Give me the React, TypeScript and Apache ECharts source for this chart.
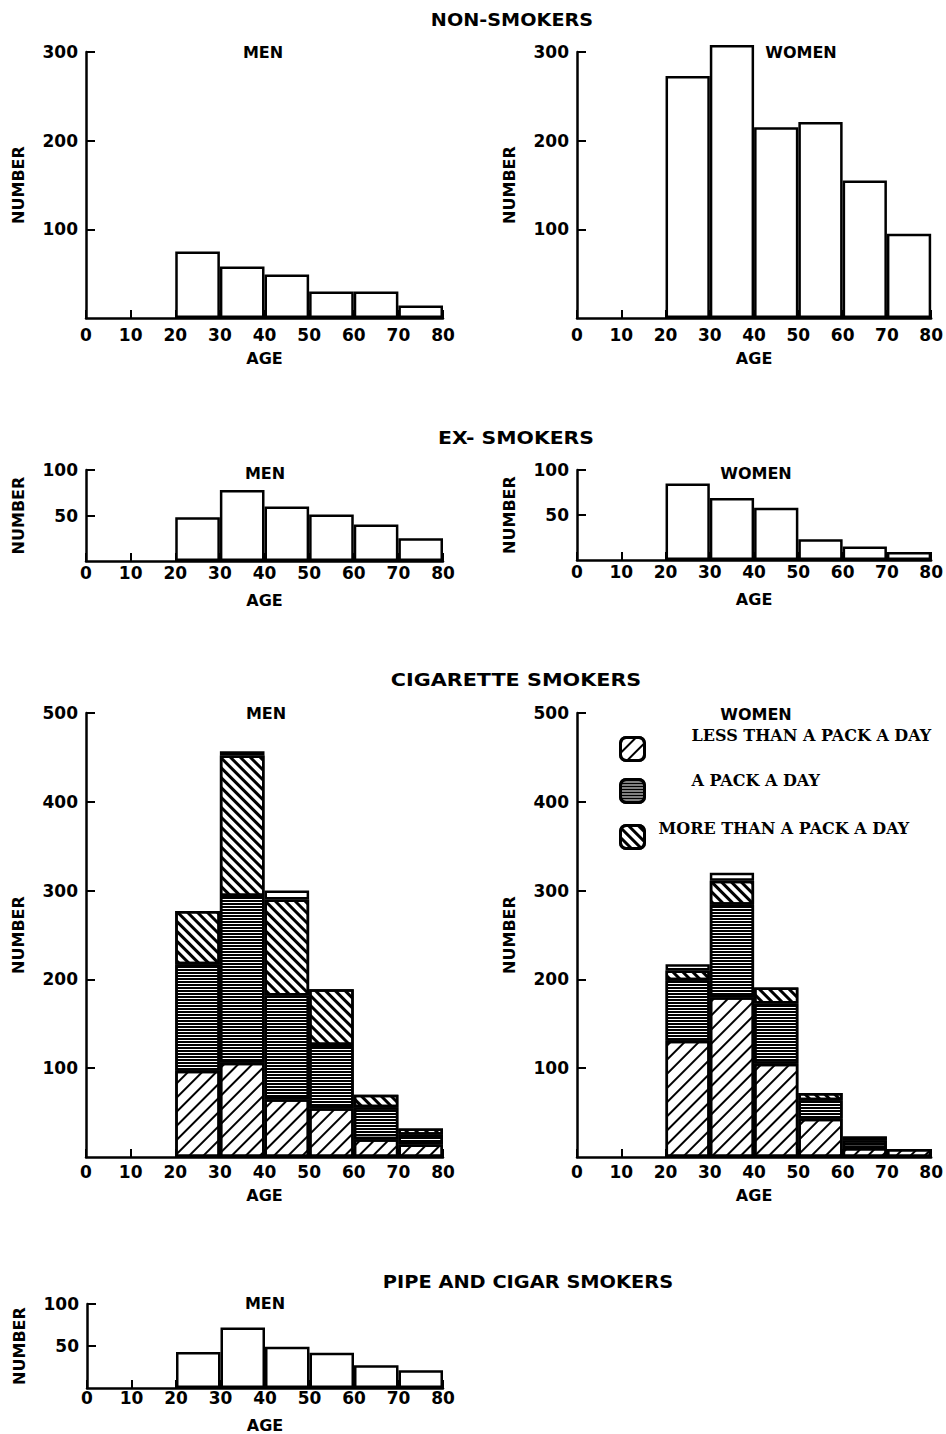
import React, { useEffect, useRef } from "react";
import * as echarts from "echarts";

// ---------- data ----------
const AGE_GROUPS = ["0-10", "10-20", "20-30", "30-40", "40-50", "50-60", "60-70", "70-80"];

const nonSmokersMen = ["-", "-", 75, 58, 49, 30, 30, 14];
const nonSmokersWomen = ["-", "-", 273, 308, 215, 221, 155, 95];

const exSmokersMen = ["-", "-", 48, 78, 60, 51, 40, 25];
const exSmokersWomen = ["-", "-", 85, 69, 58, 23, 15, 9];

const cigMenLess = ["-", "-", 97, 106, 65, 55, 20, 14];
const cigMenPack = ["-", "-", 120, 188, 117, 71, 36, 11];
const cigMenMore = ["-", "-", 60, 158, 108, 63, 14, 7];
const cigMenUnstated = ["-", "-", "-", 5, 10, "-", "-", "-"];

const cigWomenLess = ["-", "-", 131, 180, 105, 43, 10, 9];
const cigWomenPack = ["-", "-", 68, 104, 68, 21, 9, "-"];
const cigWomenMore = ["-", "-", 11, 27, 18, 8, 4, "-"];
const cigWomenUnstated = ["-", "-", 7, 9, "-", "-", "-", "-"];

const pipeCigarMen = ["-", "-", 43, 72, 49, 42, 27, 21];

const LESS = "LESS THAN A PACK A DAY";
const PACK = "A PACK A DAY";
const MORE = "MORE THAN A PACK A DAY";
const UNSTATED = "NOT STATED";

// ---------- styles ----------
const SANS = "DejaVu Sans";
const TYPE = "DejaVu Serif";
const INK = "#000";

const decalLess = {
  symbol: "rect",
  symbolSize: 1,
  dashArrayX: [1, 0],
  dashArrayY: [1.4, 8],
  rotation: -Math.PI / 4,
  color: INK,
  backgroundColor: null,
};
const decalPack = {
  symbol: "rect",
  symbolSize: 1,
  dashArrayX: [1, 0],
  dashArrayY: [2, 1],
  rotation: 0,
  color: INK,
  backgroundColor: null,
};
const decalMore = {
  symbol: "rect",
  symbolSize: 1,
  dashArrayX: [1, 0],
  dashArrayY: [2.4, 4],
  rotation: Math.PI / 4,
  color: INK,
  backgroundColor: null,
};

type PanelDef = {
  left: number;
  top: number;
  width: number;
  height: number;
  yMax: number;
  yInterval: number;
  labelMargin: number;
  ageGap: number;
};

const panels: PanelDef[] = [
  { left: 86, top: 52, width: 357, height: 266, yMax: 300, yInterval: 100, labelMargin: 8, ageGap: 32 },
  { left: 577, top: 52, width: 355, height: 266, yMax: 300, yInterval: 100, labelMargin: 8, ageGap: 32 },
  { left: 86, top: 470, width: 357, height: 91, yMax: 100, yInterval: 50, labelMargin: 3, ageGap: 31 },
  { left: 577, top: 470, width: 355, height: 90, yMax: 100, yInterval: 50, labelMargin: 3, ageGap: 31 },
  { left: 86, top: 713, width: 357, height: 444, yMax: 500, yInterval: 100, labelMargin: 6, ageGap: 30 },
  { left: 577, top: 713, width: 355, height: 444, yMax: 500, yInterval: 100, labelMargin: 6, ageGap: 30 },
  { left: 87, top: 1304, width: 356, height: 84, yMax: 100, yInterval: 50, labelMargin: 1, ageGap: 29 },
];

function buildOption() {
  const grid: any[] = [];
  const xAxis: any[] = [];
  const yAxis: any[] = [];
  panels.forEach((p, i) => {
    grid.push({ left: p.left, top: p.top, width: p.width, height: p.height, containLabel: false });
    xAxis.push({
      type: "value",
      gridIndex: i,
      min: 0,
      max: 80,
      interval: 10,
      axisLine: { show: true, lineStyle: { color: INK, width: 2.5 } },
      axisTick: { show: true, inside: true, length: 8, lineStyle: { color: INK, width: 2 } },
      axisLabel: { margin: p.labelMargin, color: INK, fontFamily: SANS, fontWeight: "bold", fontSize: 17 },
      splitLine: { show: false },
      name: "AGE",
      nameLocation: "middle",
      nameGap: p.ageGap,
      nameTextStyle: { color: INK, fontFamily: SANS, fontWeight: "bold", fontSize: 16 },
    });
    xAxis.push({ type: "category", gridIndex: i, data: AGE_GROUPS, show: false, boundaryGap: true });
    yAxis.push({
      type: "value",
      gridIndex: i,
      min: 0,
      max: p.yMax,
      interval: p.yInterval,
      axisLine: { show: true, lineStyle: { color: INK, width: 2.5 } },
      axisTick: { show: true, inside: true, length: 9, lineStyle: { color: INK, width: 2 } },
      axisLabel: { showMinLabel: false, margin: 8, color: INK, fontFamily: SANS, fontWeight: "bold", fontSize: 17 },
      splitLine: { show: false },
      name: "NUMBER",
      nameLocation: "middle",
      nameGap: 60,
      nameRotate: 90,
      nameTextStyle: { color: INK, fontFamily: SANS, fontWeight: "bold", fontSize: 16 },
    });
  });

  const base = (i: number) => ({
    type: "bar",
    xAxisIndex: i * 2 + 1,
    yAxisIndex: i,
    barCategoryGap: "0%",
    barGap: "0%",
    clip: false,
    silent: true,
  });
  const plain = { color: "#fff", borderColor: INK, borderWidth: 2.5 };

  const series: any[] = [
    { ...base(0), name: "Non-smokers men", data: nonSmokersMen, itemStyle: plain },
    { ...base(1), name: "Non-smokers women", data: nonSmokersWomen, itemStyle: plain },
    { ...base(2), name: "Ex-smokers men", data: exSmokersMen, itemStyle: plain },
    { ...base(3), name: "Ex-smokers women", data: exSmokersWomen, itemStyle: plain },
    { ...base(6), name: "Pipe and cigar men", data: pipeCigarMen, itemStyle: plain },
  ];
  const stackSet = (i: number, key: string, less: any[], pack: any[], more: any[], unst: any[]) => {
    series.push({ ...base(i), name: LESS, stack: key, data: less, itemStyle: { ...plain, decal: decalLess } });
    series.push({ ...base(i), name: PACK, stack: key, data: pack, itemStyle: { ...plain, decal: decalPack } });
    series.push({ ...base(i), name: MORE, stack: key, data: more, itemStyle: { ...plain, decal: decalMore } });
    series.push({ ...base(i), name: UNSTATED, stack: key, data: unst, itemStyle: plain });
  };
  stackSet(4, "men", cigMenLess, cigMenPack, cigMenMore, cigMenUnstated);
  stackSet(5, "women", cigWomenLess, cigWomenPack, cigWomenMore, cigWomenUnstated);

  const legendBase = {
    orient: "vertical",
    padding: 0,
    itemWidth: 24,
    itemHeight: 23,
    icon: "roundRect",
    selectedMode: false,
    itemStyle: { borderColor: INK, borderWidth: 3 },
    formatter: (name: string) => name + "\n",
  };
  const legTxt = (padLeft: number, lineHeight: number) => ({
    color: INK,
    fontFamily: TYPE,
    fontWeight: "bold",
    fontSize: 16,
    lineHeight,
    padding: [0, 0, 0, padLeft],
  });
  const legend = [
    { ...legendBase, data: [LESS], left: 619, top: 722, textStyle: legTxt(42, 27) },
    { ...legendBase, data: [PACK], left: 619, top: 770, textStyle: legTxt(42, 21) },
    { ...legendBase, data: [MORE], left: 619, top: 820, textStyle: legTxt(9, 17) },
  ];

  const txt = (text: string, x: number, y: number, size: number, scaleX = 1) => ({
    type: "text",
    x,
    y,
    scaleX,
    silent: true,
    style: {
      text,
      fill: INK,
      fontFamily: SANS,
      fontWeight: "bold",
      fontSize: size,
      align: "center",
      verticalAlign: "middle",
      textAlign: "center",
      textVerticalAlign: "middle",
    },
  });

  const graphic = [
    txt("NON-SMOKERS", 512, 20, 17, 1.13),
    txt("MEN", 263, 52, 16),
    txt("WOMEN", 801, 52, 16),
    txt("EX- SMOKERS", 516, 438, 17, 1.2),
    txt("MEN", 265, 473, 16),
    txt("WOMEN", 756, 473, 16),
    txt("CIGARETTE SMOKERS", 516, 680, 17, 1.22),
    txt("MEN", 266, 713, 16),
    txt("WOMEN", 756, 714, 16),
    txt("PIPE AND CIGAR SMOKERS", 528, 1282, 17, 1.14),
    txt("MEN", 265, 1303, 16),
  ];

  return {
    animation: false,
    backgroundColor: "#fff",
    grid,
    xAxis,
    yAxis,
    series,
    legend,
    graphic,
  };
}

export default function App() {
  const ref = useRef<HTMLDivElement>(null);
  useEffect(() => {
    document.body.style.margin = "0";
    if (!ref.current) return;
    const chart = echarts.init(ref.current, null, { renderer: "svg" });
    chart.setOption(buildOption() as any);
    return () => chart.dispose();
  }, []);
  return <div ref={ref} style={{ width: 946, height: 1434, background: "#fff" }} />;
}
